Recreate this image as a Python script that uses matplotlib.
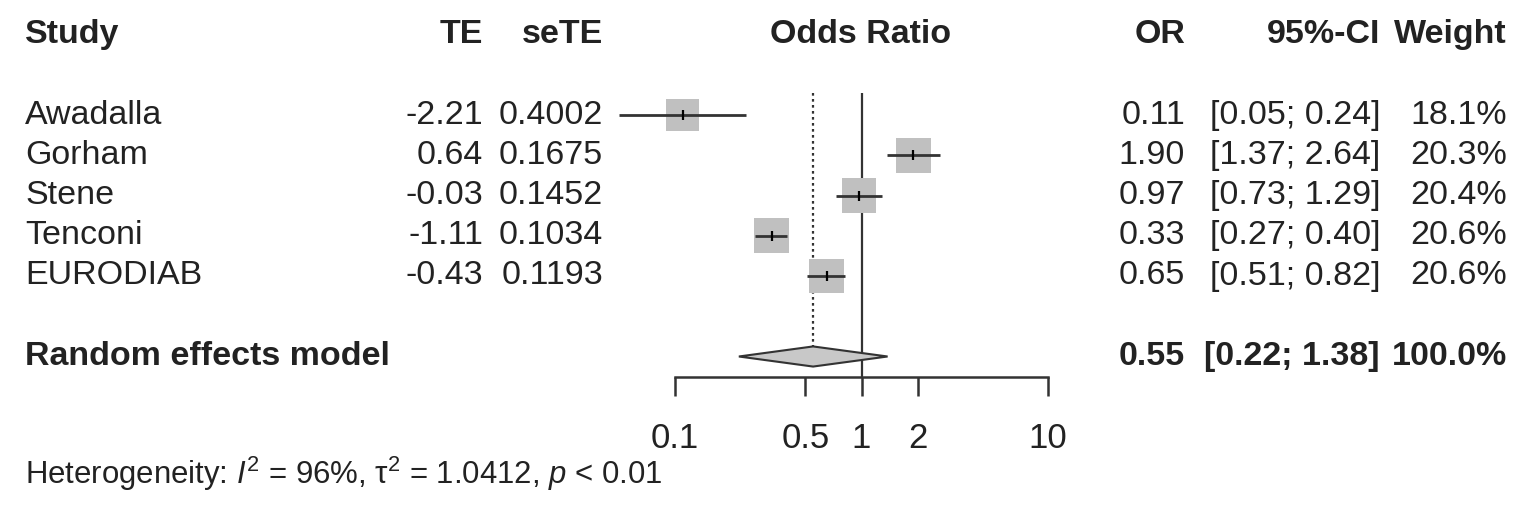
import numpy as np
import matplotlib
matplotlib.use("Agg")
import matplotlib.pyplot as plt
from matplotlib import transforms

plt.rcParams["font.family"] = ["Liberation Sans", "DejaVu Sans"]
plt.rcParams["mathtext.fontset"] = "custom"
plt.rcParams["mathtext.rm"] = "Liberation Sans"
plt.rcParams["mathtext.it"] = "Liberation Sans:italic"

studies = ["Awadalla", "Gorham", "Stene", "Tenconi", "EURODIAB"]
te = ["-2.21", "0.64", "-0.03", "-1.11", "-0.43"]
sete = ["0.4002", "0.1675", "0.1452", "0.1034", "0.1193"]
odds = [0.11, 1.90, 0.97, 0.33, 0.65]
lower = [0.05, 1.37, 0.73, 0.27, 0.51]
upper = [0.24, 2.64, 1.29, 0.40, 0.82]
weight = [18.1, 20.3, 20.4, 20.6, 20.6]

pooled_or = 0.55
pooled_lo = 0.22
pooled_hi = 1.38
ticks = [0.1, 0.5, 1, 2, 10]
tick_labels = ["0.1", "0.5", "1", "2", "10"]
het_text = r"Heterogeneity: $\mathit{I}^2$ = 96%, τ$^2$ = 1.0412, $\mathit{p}$ < 0.01"

W, H = 1535, 520
fig = plt.figure(figsize=(W / 100, H / 100), dpi=100)
# forest panel: x from 0.1 to 10 on log scale, y in row units (row 0 = first study)
ax = fig.add_axes([675 / W, 0, (1048 - 675) / W, 1])
ax.set_xscale("log")
ax.set_xlim(0.1, 10)
row_px = 40.25
ax.set_ylim((H - 115) / row_px, -115 / row_px)
ax.patch.set_visible(False)
for s in ["top", "left", "right"]:
    ax.spines[s].set_visible(False)
ax.spines["bottom"].set_position(("data", 6.5))
ax.spines["bottom"].set_linewidth(1.8)
ax.spines["bottom"].set_color("#333333")
ax.set_yticks([])
ax.set_xticks(ticks)
ax.set_xticklabels(tick_labels)
ax.xaxis.set_minor_locator(plt.NullLocator())
ax.tick_params(axis="x", direction="out", length=14, width=1.8, color="#333333",
               pad=19, labelsize=25, labelcolor="#222222")

rows = np.arange(len(studies))
pooled_row = 6

ax.vlines(1, -0.55, 6.5, color="#333333", lw=1.6, zorder=1)
ax.vlines(pooled_or, -0.55, pooled_row - 0.25, color="#333333", lw=1.6,
          linestyles=(0, (1.2, 1.5)), zorder=1)

# box area proportional to weight
side = 25.1
ax.scatter(odds, rows, marker="s", s=[side ** 2 * w / 20.6 for w in weight],
           color="#c0c0c0", edgecolor="none", zorder=2, clip_on=False)
ax.hlines(rows, lower, upper, color="#333333", lw=2.0, zorder=3, clip_on=False)
ax.scatter(odds, rows, marker="|", s=60, color="black", linewidths=1.6, zorder=4,
           clip_on=False)

ax.fill([pooled_lo, pooled_or, pooled_hi, pooled_or],
        [pooled_row, pooled_row - 0.25, pooled_row, pooled_row + 0.25],
        facecolor="#c8c8c8", edgecolor="#333333", lw=1.5, zorder=3)

# text columns
tr = transforms.blended_transform_factory(fig.transFigure, ax.transData)
fs = 24.5


def col(x, y, s, ha="right", bold=False):
    ax.text(x / W, y, s, transform=tr, ha=ha, va="center", fontsize=fs,
            color="#222222", fontweight="bold" if bold else "normal", clip_on=False)


hdr = -2
col(25, hdr, "Study", "left", True)
col(483, hdr, "TE", bold=True)
col(603, hdr, "seTE", bold=True)
col(861, hdr, "Odds Ratio", "center", True)
col(1185, hdr, "OR", bold=True)
col(1380, hdr, "95%-CI", bold=True)
col(1507, hdr, "Weight", bold=True)

for i in rows:
    col(25, i, studies[i], "left")
    col(483, i, te[i])
    col(603, i, sete[i])
    col(1185, i, f"{odds[i]:.2f}")
    col(1380, i, f"[{lower[i]:.2f}; {upper[i]:.2f}]")
    col(1507, i, f"{weight[i]:.1f}%")

col(25, pooled_row, "Random effects model", "left", True)
col(1185, pooled_row, f"{pooled_or:.2f}", bold=True)
col(1380, pooled_row, f"[{pooled_lo:.2f}; {pooled_hi:.2f}]", bold=True)
col(1507, pooled_row, "100.0%", bold=True)

ax.text(25 / W, (474 - 115) / row_px, het_text, transform=tr, ha="left",
        va="center", fontsize=22.4, color="#222222", clip_on=False)

fig.savefig("out.png", dpi=100, facecolor="white")
